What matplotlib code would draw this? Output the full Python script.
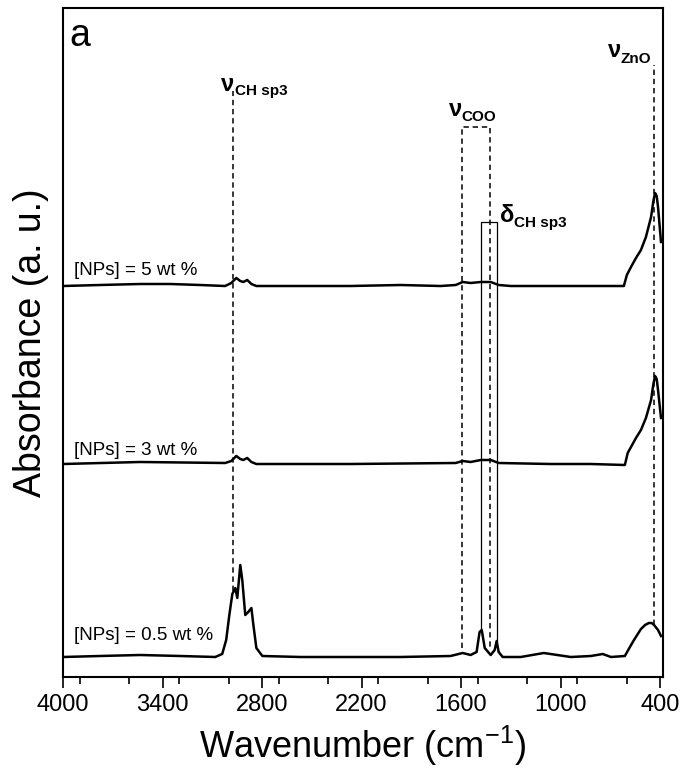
import matplotlib
matplotlib.use("Agg")
import matplotlib.pyplot as plt
from matplotlib.ticker import MultipleLocator

plt.rcParams['font.family'] = ['Liberation Sans', 'DejaVu Sans']
plt.rcParams['mathtext.fontset'] = 'custom'
plt.rcParams['mathtext.rm'] = 'Liberation Sans'

# spectra (wavenumber, absorbance in a.u. with offsets)
wn_5 = [4000, 3777, 3535, 3354, 3173, 3022, 2985, 2955, 2931, 2913, 2889, 2864, 2834,
        2568, 2267, 1965, 1723, 1632, 1590, 1542, 1481, 1421, 1373, 1300, 1059, 817,
        618, 600, 575, 545, 515, 485, 454, 440, 430, 420, 412, 394]
ab_5 = [391, 392, 393, 393, 392, 391, 394, 399, 396, 395, 397, 393, 391,
        391, 391, 392, 391, 392, 395, 394, 395, 395, 392, 391, 391, 391,
        391, 402, 410, 419, 427, 440, 460, 476, 484, 481, 470, 435]

wn_3 = [4000, 3535, 3022, 2985, 2955, 2931, 2913, 2889, 2864, 2834, 2267, 1632, 1590,
        1542, 1481, 1421, 1373, 1059, 817, 612, 595, 575, 545, 515, 485, 454, 440, 430,
        420, 412, 394]
ab_3 = [213, 215, 214, 216, 221, 218, 217, 219, 215, 213, 213, 214, 216,
        215, 217, 217, 214, 213, 213, 212, 224, 230, 239, 247, 259, 277, 293, 301,
        298, 287, 259]

wn_05 = [4000, 3777, 3535, 3293, 3082, 3040, 3016, 2997, 2979, 2961, 2949, 2931, 2919,
         2901, 2883, 2864, 2852, 2834, 2798, 2568, 1965, 1663, 1590, 1542, 1506, 1488,
         1475, 1457, 1421, 1397, 1385, 1373, 1349, 1240, 1101, 938, 817, 745, 696, 612,
         585, 557, 515, 490, 467, 450, 436, 412, 394]
ab_05 = [20, 21, 22, 21, 20, 23, 37, 62, 83, 89, 79, 112, 97,
         62, 65, 69, 52, 29, 21, 20, 20, 21, 24, 22, 25, 45,
         47, 29, 22, 27, 36, 25, 20, 20, 24, 20, 21, 23, 20, 21,
         29, 37, 48, 52, 54, 54, 52, 47, 41]

sample_labels = ['[NPs] = 5 wt %', '[NPs] = 3 wt %', '[NPs] = 0.5 wt %']
label_y = [402, 222, 37]

# band positions
ch_line = (2973, 86, 586)
coo_box = (1596, 1427, 29, 550)
delta_box = (1481, 1385, 47, 36, 455)
zno_line = (436, 52, 612)

fig = plt.figure(figsize=(6.8, 7.69), dpi=100)
ax = fig.add_axes([63 / 680, 1 - 677 / 769, 600 / 680, 669 / 769])

for wn, ab in [(wn_5, ab_5), (wn_3, ab_3), (wn_05, ab_05)]:
    ax.plot(wn, ab, color='black', lw=1.8, solid_joinstyle='round')

for lab, y in zip(sample_labels, label_y):
    ax.text(3934, y, lab, fontsize=13.5, va='baseline', ha='left')

dash = dict(color='black', lw=1.1, linestyle=(0, (3.5, 2.5)))
ax.plot([ch_line[0], ch_line[0]], [ch_line[1], ch_line[2]], **dash)
ax.plot([zno_line[0], zno_line[0]], [zno_line[1], zno_line[2]], **dash)
l, r, b, t = coo_box
ax.plot([l, l, r, r], [b, t, t, b], **dash)
l, r, bl, br, t = delta_box
ax.plot([l, l, r, r], [bl, t, t, br], color='black', lw=0.9)


def band(x, y, sym, sub, xs, ys):
    ax.text(x, y, sym, fontsize=17, fontweight='bold', va='baseline', ha='left')
    ax.text(xs, ys, sub, fontsize=11, fontweight='bold', va='baseline', ha='left')


band(3046, 586, 'ν', 'CH sp3', 2961, 582)
band(1675, 561, 'ν', 'COO', 1596, 556)
band(1367, 455, 'δ', 'CH sp3', 1282, 450)
band(714, 620, 'ν', 'ZnO', 638, 614)

ax.text(0.01, 0.985, 'a', transform=ax.transAxes, fontsize=27, va='top', ha='left')

ax.set_xlim(4000, 382)
ax.set_ylim(0, 669)
ax.xaxis.set_minor_locator(MultipleLocator(300))
ax.set_xticks([4000, 3400, 2800, 2200, 1600, 1000, 400])
ax.set_yticks([])
ax.tick_params(axis='x', which='major', direction='out', length=8, width=1.2,
               labelsize=17, pad=4)
ax.tick_params(axis='x', which='minor', direction='out', length=5, width=1.2)
for s in ax.spines.values():
    s.set_linewidth(1.5)

ax.set_xlabel(r'Wavenumber (cm$^{\mathregular{-1}}$)', fontsize=26, labelpad=6)
ax.set_ylabel('Absorbance (a. u.)', fontsize=27, labelpad=10)

fig.savefig('out.png', dpi=100)
